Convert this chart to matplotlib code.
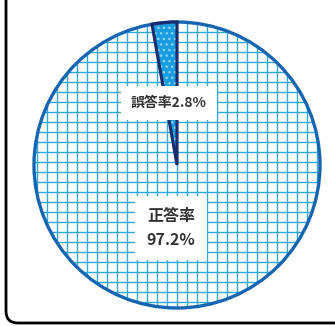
import matplotlib.pyplot as plt
import numpy as np
from matplotlib.patches import Circle, FancyBboxPatch

plt.rcParams['font.family'] = ['Noto Sans CJK JP', 'DejaVu Sans']
plt.rcParams['hatch.linewidth'] = 1.0

# answer shares (%)
labels = ['誤答率', '正答率']
shares = [2.8, 97.2]

W, H = 335, 326
fig = plt.figure(figsize=(W / 100, H / 100), dpi=100)
ax = fig.add_axes([0, 0, 1, 1])

cx, cy, r = 177, 161, 143
pie_kw = dict(startangle=90, counterclock=True, center=(cx, cy), radius=r)

wedges, _ = ax.pie(shares, colors=['#1a9de0', 'white'],
                   wedgeprops=dict(linewidth=0, edgecolor='none'), **pie_kw)
err, ok = wedges

# light-blue grid inside the correct-answer slice
for gx in np.arange(7, W, 10):
    ln, = ax.plot([gx, gx], [0, H], color='#2aa9e0', lw=1.0, zorder=3)
    ln.set_clip_path(ok)
for gy in np.arange(4, H, 10):
    ln, = ax.plot([0, W], [gy, gy], color='#2aa9e0', lw=1.0, zorder=3)
    ln.set_clip_path(ok)

# outer ring
ax.add_patch(Circle((cx, cy), r, fill=False, edgecolor='#1565b0', lw=2.4, zorder=4))

# dotted fill + dark outline on the wrong-answer slice
dots, _ = ax.pie(shares, colors=['none', 'none'],
                 wedgeprops=dict(linewidth=0, edgecolor='#8ad4f4', hatch='...'), **pie_kw)
dots[0].set_zorder(5)
dots[1].set_visible(False)
outline, _ = ax.pie(shares, colors=['none', 'none'],
                    wedgeprops=dict(linewidth=2.2, edgecolor='#1b2c6e'), **pie_kw)
outline[0].set_zorder(6)
outline[1].set_visible(False)

ax.text(169, H - 103, f'{labels[0]}{shares[0]}%', ha='center', va='center',
        fontsize=10, fontweight='bold', color='#333333', zorder=8,
        bbox=dict(boxstyle='square,pad=0.75', fc='white', ec='none'))
ax.text(171, H - 228, f'{labels[1]}\n{shares[1]}%', ha='center', va='center',
        fontsize=11.5, fontweight='bold', color='#333333', linespacing=1.6, zorder=8,
        bbox=dict(boxstyle='square,pad=0.75', fc='white', ec='none'))

# rounded frame, open past the top and right edges
ax.add_patch(FancyBboxPatch((6, 3), 360, 360, boxstyle='round,pad=0,rounding_size=12',
                            fill=False, edgecolor='black', lw=2.0, zorder=9,
                            clip_on=False))

ax.set_xlim(0, W)
ax.set_ylim(0, H)
ax.set_aspect('equal')
ax.axis('off')

fig.savefig('out.png', dpi=100)
